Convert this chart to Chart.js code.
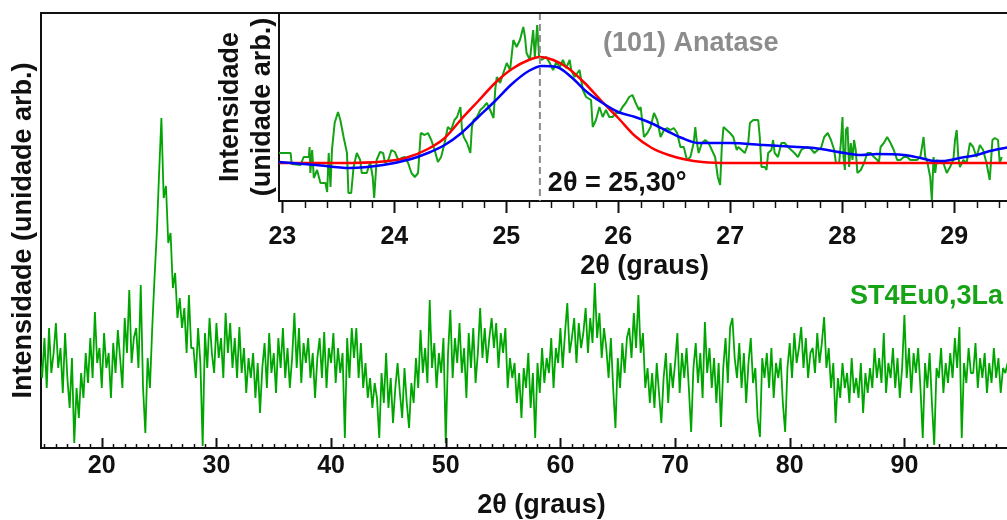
<!DOCTYPE html>
<html>
<head>
<meta charset="utf-8">
<script src="https://cdn.jsdelivr.net/npm/chart.js@4.4.1/dist/chart.umd.min.js"></script>
<style>
  html, body { margin: 0; padding: 0; background: #fff; overflow: hidden; }
  #wrap { position: relative; width: 1007px; height: 520px; overflow: hidden; }
  #mainChart { position: absolute; left: 0; top: 0; }
  #insetChart { position: absolute; left: 180px; top: 0; }
</style>
</head>
<body>
<div id="wrap">
  <canvas id="mainChart" width="1045" height="520"></canvas>
  <canvas id="insetChart" width="840" height="285"></canvas>
</div>
<script>
// ------------------------------------------------------------
// Data – full scan (main panel)
// ------------------------------------------------------------
const scanStart = 14.6;   // 2θ of first point
const scanStep = 0.2;     // 2θ step of the scan
const mainCounts = [
  90, 70,
  110, 60, 120, 75, 95,     // 15
  125, 80, 100, 55, 115,
  70, 40, 90, 5, 60,
  30, 75, 50, 95, 65,
  110, 70, 136, 85, 100,
  60, 115, 80, 95, 50,      // 20
  105, 75, 118, 90, 60,
  130, 95, 158, 85, 110,
  120, 80, 163, 60, 15,
  90, 60, 120, 170, 215,
  275, 330, 250, 262, 205,  // 25
  215, 160, 175, 130, 150,
  120, 140, 95, 153, 100,
  100, 70, 120, 85, 2,
  115, 80, 130, 95, 75,
  125, 90, 110, 70, 135,    // 30
  95, 125, 80, 110, 70,
  121, 75, 100, 55, 90,
  70, 95, 50, 85, 35,
  80, 105, 60, 115, 75,
  95, 55, 110, 80, 120,     // 35
  70, 100, 60, 90, 135,
  80, 120, 65, 105, 85,
  110, 70, 95, 50, 90,
  110, 70, 116, 60, 100,
  85, 115, 65, 100, 75,     // 40
  95, 10, 110, 70, 120,
  90, 120, 70, 105, 60,
  85, 50, 70, 40, 65,
  50, 10, 75, 45, 95,
  40, 70, 25, 60, 85,       // 45
  55, 30, 80, 45, 20,
  65, 45, 90, 60, 118,
  75, 100, 65, 148, 80,
  105, 60, 95, 75, 110,
  5, 95, 138, 70, 110,      // 50
  85, 125, 75, 100, 50,
  115, 80, 120, 65, 95,
  140, 90, 120, 85, 110,
  130, 100, 125, 80, 115,
  95, 120, 60, 90, 70,      // 55
  85, 45, 75, 30, 80,
  60, 95, 40, 75, 10,
  85, 55, 100, 65, 90,
  75, 110, 60, 100, 85,
  120, 80, 115, 145, 95,    // 60
  110, 130, 85, 125, 100,
  115, 140, 95, 130, 105,
  165, 110, 135, 90, 120,
  100, 70, 110, 60, 20,
  90, 60, 105, 75, 110,     // 65
  120, 90, 135, 100, 153,
  95, 115, 60, 80, 45,
  75, 40, 85, 55, 25,
  70, 95, 45, 85, 60,
  85, 115, 55, 95, 70,      // 70
  100, 60, 16, 80, 105,
  65, 95, 50, 126, 75,
  100, 60, 90, 45, 85,
  21, 80, 110, 65, 121,
  130, 90, 70, 105, 60,     // 75
  95, 45, 85, 110, 65,
  80, 30, 11, 90, 70,
  95, 60, 100, 50, 85,
  70, 90, 45, 16, 80,
  105, 70, 115, 85, 100,    // 80
  121, 80, 110, 70, 95,
  100, 75, 115, 85, 105,
  131, 80, 100, 60, 85,
  25, 70, 50, 85, 60,
  75, 45, 90, 55, 70,       // 85
  50, 85, 35, 75, 55,
  80, 60, 100, 70, 90,
  65, 115, 55, 85, 70,
  100, 60, 90, 50, 80,
  133, 70, 100, 55, 95,     // 90
  75, 100, 60, 10, 85,
  60, 95, 45, 3, 80,
  70, 100, 55, 85, 65,
  95, 70, 110, 80, 121,
  10, 85, 65, 100, 75,      // 95
  75, 105, 60, 90, 70,
  95, 55, 85, 65, 100,
  70, 90, 55, 80, 75,
  85
];
const mainTickLabels = [20, 30, 40, 50, 60, 70, 80, 90];
const sampleName = "ST4Eu0,3La";

// ------------------------------------------------------------
// Data – (101) peak zoom (inset)
// ------------------------------------------------------------
const insetAngle = [
  22.97, 23.074, 23.083, 23.163, 23.19, 23.237, 23.243, 23.25, 23.266, 23.281,
  23.31, 23.34, 23.385, 23.4, 23.414, 23.43, 23.443, 23.467, 23.497, 23.518,
  23.547, 23.577, 23.59, 23.615, 23.636, 23.665, 23.695, 23.709, 23.754, 23.784,
  23.807, 23.82, 23.842, 23.872, 23.9, 23.917, 23.946, 23.975, 24.005, 24.035,
  24.064, 24.094, 24.123, 24.153, 24.183, 24.212, 24.236, 24.271, 24.3, 24.33,
  24.36, 24.389, 24.418, 24.449, 24.478, 24.507, 24.537, 24.56, 24.59, 24.605,
  24.62, 24.649, 24.679, 24.693, 24.708, 24.738, 24.768, 24.797, 24.826, 24.856,
  24.886, 24.901, 24.915, 24.945, 24.974, 25.004, 25.034, 25.063, 25.092, 25.122,
  25.152, 25.167, 25.181, 25.211, 25.24, 25.255, 25.276, 25.293, 25.314, 25.358,
  25.388, 25.418, 25.447, 25.477, 25.506, 25.535, 25.566, 25.58, 25.61, 25.654,
  25.684, 25.713, 25.757, 25.772, 25.801, 25.832, 25.861, 25.89, 25.92, 25.949,
  25.979, 26.009, 26.038, 26.067, 26.097, 26.127, 26.156, 26.186, 26.2, 26.23,
  26.26, 26.289, 26.319, 26.348, 26.378, 26.408, 26.437, 26.466, 26.496, 26.526,
  26.555, 26.585, 26.614, 26.644, 26.674, 26.688, 26.703, 26.718, 26.747, 26.777,
  26.807, 26.836, 26.865, 26.889, 26.91, 26.925, 26.94, 26.969, 26.998, 27.028,
  27.058, 27.073, 27.102, 27.131, 27.161, 27.176, 27.206, 27.25, 27.264, 27.279,
  27.309, 27.324, 27.339, 27.368, 27.383, 27.397, 27.427, 27.457, 27.486, 27.516,
  27.545, 27.574, 27.605, 27.634, 27.663, 27.693, 27.722, 27.752, 27.782, 27.811,
  27.84, 27.871, 27.9, 27.929, 27.944, 27.973, 27.988, 28.003, 28.012, 28.024,
  28.033, 28.048, 28.062, 28.077, 28.092, 28.106, 28.121, 28.136, 28.166, 28.195,
  28.225, 28.254, 28.284, 28.314, 28.328, 28.343, 28.372, 28.402, 28.432, 28.461,
  28.491, 28.52, 28.55, 28.58, 28.609, 28.638, 28.668, 28.698, 28.713, 28.727,
  28.742, 28.757, 28.786, 28.801, 28.816, 28.831, 28.845, 28.875, 28.904, 28.934,
  28.963, 28.993, 29.008, 29.023, 29.037, 29.052, 29.082, 29.111, 29.141, 29.17,
  29.2, 29.23, 29.259, 29.289, 29.318, 29.342, 29.363, 29.392, 29.407, 29.425
];
const insetCounts = [
  48, 48, 37, 36, 44, 44, 54, 28, 51, 23,
  31, 18, 18, 9, 48, 14, 51, 78, 89, 81,
  64, 48, 8, 8, 34, 48, 41, 28, 28, 39,
  24, 3, 41, 49, 48, 38, 41, 51, 49, 41,
  43, 44, 38, 28, 24, 28, 68, 66, 68, 61,
  51, 39, 44, 58, 74, 71, 81, 84, 94, 71,
  64, 58, 48, 74, 81, 84, 91, 94, 98, 91,
  83, 111, 124, 118, 128, 138, 131, 161, 154, 161,
  174, 164, 148, 141, 171, 144, 176, 144, 141, 144,
  138, 131, 139, 134, 141, 133, 141, 131, 124, 131,
  111, 104, 101, 74, 81, 94, 84, 91, 84, 84,
  88, 88, 94, 98, 104, 106, 98, 91, 94, 64,
  68, 74, 88, 81, 64, 71, 73, 71, 73, 68,
  54, 54, 41, 44, 58, 74, 58, 48, 58, 61,
  58, 51, 44, 24, 16, 54, 74, 71, 68, 64,
  51, 54, 51, 48, 58, 78, 81, 81, 64, 34,
  34, 31, 48, 51, 61, 48, 44, 58, 58, 54,
  51, 48, 44, 51, 53, 54, 52, 48, 51, 53,
  64, 68, 61, 51, 38, 38, 58, 84, 44, 31,
  71, 74, 34, 58, 41, 61, 51, 28, 31, 38,
  48, 48, 44, 41, 38, 54, 58, 64, 58, 51,
  41, 41, 44, 44, 41, 41, 41, 44, 54, 64,
  44, 41, 24, 1, 44, 28, 41, 38, 38, 28,
  34, 41, 61, 71, 44, 34, 41, 38, 58, 54,
  44, 56, 51, 38, 21, 61, 63, 61, 38, 44
];

// red fit
const fitRedAngle = [22.97, 23.5, 23.9, 24.1, 24.3, 24.45, 24.6, 24.75, 24.9, 25.05, 25.2, 25.3,
  25.42, 25.55, 25.7, 25.85, 26.0, 26.15, 26.3, 26.45, 26.6, 26.75, 27.0, 29.5];
const fitRed = [38, 38, 39.5, 43, 52, 63, 82, 100, 118, 132, 141, 144,
  141, 133, 118, 100, 83, 65, 53, 46, 41.5, 39, 38, 38];

// blue fit
const fitBlueAngle = [22.97, 23.3, 23.6, 23.9, 24.15, 24.3, 24.45, 24.6, 24.75, 24.9, 25.05, 25.2,
  25.32, 25.45, 25.58, 25.72, 25.86, 26.0, 26.15, 26.27, 26.42, 26.57, 26.72, 27.0, 27.3,
  27.6, 27.75, 28.02, 28.17, 28.31, 28.55, 28.7, 28.82, 28.9, 29.05, 29.2, 29.32, 29.5];
const fitBlue = [39, 36, 33, 36, 42, 48, 56, 68, 84, 100, 117, 130,
  135, 134, 124, 109, 98, 89, 84, 79, 71, 63, 58, 58, 56,
  54, 53, 48, 46, 47, 46, 43, 40, 40, 43, 46, 50, 54];

const insetTickLabels = [23, 24, 25, 26, 27, 28, 29];
const peakPosition = 25.3;
const peakText = "2θ = 25,30°";
const peakName = "(101) Anatase";

// ------------------------------------------------------------
// Helpers
// ------------------------------------------------------------
const FONT = "'Liberation Sans', Arial, sans-serif";
const INK = "#111";

function toPoints(xs, ys) {
  return ys.map((y, i) => ({ x: xs[i], y }));
}

function isWhole(v) {
  return Math.abs(v - Math.round(v)) < 1e-6;
}

// small tick marks on the x axis (dir -1 = inward, +1 = outward)
function tickMarks(isMajor, majorLen, minorLen, dir) {
  return {
    id: "tickMarks",
    afterDraw(chart) {
      const sx = chart.scales.x;
      const ctx = chart.ctx;
      ctx.save();
      ctx.strokeStyle = INK;
      sx.ticks.forEach(t => {
        const px = Math.round(sx.getPixelForValue(t.value)) + 0.5;
        const major = isMajor(t.value);
        ctx.lineWidth = major ? 2 : 1.5;
        ctx.beginPath();
        ctx.moveTo(px, sx.top);
        ctx.lineTo(px, sx.top + dir * (major ? majorLen : minorLen));
        ctx.stroke();
      });
      ctx.restore();
    }
  };
}

const topBorder = {
  id: "topBorder",
  afterDraw(chart) {
    const { ctx, chartArea } = chart;
    ctx.save();
    ctx.strokeStyle = INK;
    ctx.lineWidth = 2;
    ctx.beginPath();
    ctx.moveTo(chartArea.left - 1, chartArea.top);
    ctx.lineTo(chartArea.right, chartArea.top);
    ctx.stroke();
    ctx.restore();
  }
};

// ------------------------------------------------------------
// Main chart
// ------------------------------------------------------------
const mainData = mainCounts.map((c, i) => ({ x: +(scanStart + i * scanStep).toFixed(2), y: c }));

const sampleLabel = {
  id: "sampleLabel",
  afterDraw(chart) {
    const ctx = chart.ctx;
    ctx.save();
    ctx.font = "bold 27px " + FONT;
    ctx.fillStyle = "#16a316";
    ctx.textAlign = "right";
    ctx.textBaseline = "middle";
    ctx.fillText(sampleName, 1003, 297);
    ctx.restore();
  }
};

new Chart(document.getElementById("mainChart"), {
  type: "line",
  data: {
    datasets: [{
      data: mainData,
      borderColor: "#00a600",
      borderWidth: 1.8,
      borderJoinStyle: "bevel",
      pointRadius: 0,
      tension: 0
    }]
  },
  options: {
    responsive: false,
    animation: false,
    layout: { padding: { top: 13, right: 0, left: 0, bottom: 0 } },
    plugins: { legend: { display: false }, tooltip: { enabled: false } },
    scales: {
      x: {
        type: "linear",
        min: 14.7,
        max: 102,
        grid: { display: false, drawTicks: false },
        border: { display: true, color: INK, width: 2 },
        ticks: {
          stepSize: 1,
          autoSkip: false,
          maxRotation: 0,
          includeBounds: false,
          padding: 3,
          color: INK,
          font: { family: FONT, size: 25, weight: "bold" },
          callback: v => mainTickLabels.includes(v) ? String(v) : ""
        },
        title: {
          display: true,
          text: "2θ (graus)",
          color: INK,
          padding: { top: 0, bottom: 0 },
          font: { family: FONT, size: 27, weight: "bold", lineHeight: 1.05 }
        },
        afterFit: s => { s.height = 72; }
      },
      y: {
        min: 0,
        max: 435,
        grid: { display: false, drawTicks: false },
        border: { display: true, color: INK, width: 2 },
        ticks: { display: false },
        title: {
          display: true,
          text: "Intensidade (unidade arb.)",
          color: INK,
          padding: { top: 7, bottom: 0 },
          font: { family: FONT, size: 27, weight: "bold" }
        },
        afterFit: s => { s.width = 41; }
      }
    }
  },
  plugins: [tickMarks(v => v % 10 === 0, 10, 4, -1), topBorder, sampleLabel]
});

// ------------------------------------------------------------
// Inset chart
// ------------------------------------------------------------
const peakMarker = {
  id: "peakMarker",
  afterDatasetsDraw(chart) {
    const { ctx, chartArea } = chart;
    const px = chart.scales.x.getPixelForValue(peakPosition);
    ctx.save();
    ctx.strokeStyle = "#8a8a8a";
    ctx.lineWidth = 2;
    ctx.setLineDash([7, 4]);
    ctx.beginPath();
    ctx.moveTo(px, chartArea.top);
    ctx.lineTo(px, chartArea.bottom);
    ctx.stroke();
    ctx.setLineDash([]);

    ctx.font = "bold 27px " + FONT;
    ctx.textBaseline = "middle";
    ctx.textAlign = "left";
    ctx.fillStyle = INK;
    ctx.fillText(peakText, px + 8, chartArea.bottom - 17);
    ctx.fillStyle = "#8c8c8c";
    ctx.fillText(peakName, chartArea.left + 324, chartArea.top + 31);
    ctx.restore();
  }
};

new Chart(document.getElementById("insetChart"), {
  type: "line",
  data: {
    datasets: [
      {
        data: toPoints(fitBlueAngle, fitBlue),
        borderColor: "#0000ff",
        borderWidth: 2.5,
        pointRadius: 0,
        cubicInterpolationMode: "monotone"
      },
      {
        data: toPoints(fitRedAngle, fitRed),
        borderColor: "#ff0000",
        borderWidth: 2.5,
        pointRadius: 0,
        cubicInterpolationMode: "monotone"
      },
      {
        data: toPoints(insetAngle, insetCounts),
        borderColor: "#14a314",
        borderWidth: 2,
        borderJoinStyle: "bevel",
        pointRadius: 0,
        tension: 0
      }
    ]
  },
  options: {
    responsive: false,
    animation: false,
    layout: { padding: { top: 13, right: 5, left: 0, bottom: 0 } },
    plugins: { legend: { display: false }, tooltip: { enabled: false } },
    scales: {
      x: {
        type: "linear",
        min: 22.97,
        max: 29.5,
        grid: { display: false, drawTicks: false },
        border: { display: true, color: INK, width: 2 },
        ticks: {
          stepSize: 0.2,
          autoSkip: false,
          maxRotation: 0,
          includeBounds: false,
          padding: 21,
          color: INK,
          font: { family: FONT, size: 25, weight: "bold" },
          callback: v => (isWhole(v) && insetTickLabels.includes(Math.round(v))) ? String(Math.round(v)) : ""
        },
        title: {
          display: true,
          text: "2θ (graus)",
          color: INK,
          padding: { top: 0, bottom: 2 },
          font: { family: FONT, size: 27, weight: "bold" }
        },
        afterFit: s => { s.height = 84; }
      },
      y: {
        min: 0,
        max: 188,
        grid: { display: false, drawTicks: false },
        border: { display: true, color: INK, width: 2 },
        ticks: { display: false },
        title: {
          display: true,
          text: ["Intensidade", "(unidade arb.)"],
          color: INK,
          padding: { top: 34, bottom: 0 },
          font: { family: FONT, size: 27, weight: "bold", lineHeight: 1.2 }
        },
        afterFit: s => { s.width = 99; }
      }
    }
  },
  plugins: [tickMarks(isWhole, 12, 7, 1), topBorder, peakMarker]
});
</script>
</body>
</html>
